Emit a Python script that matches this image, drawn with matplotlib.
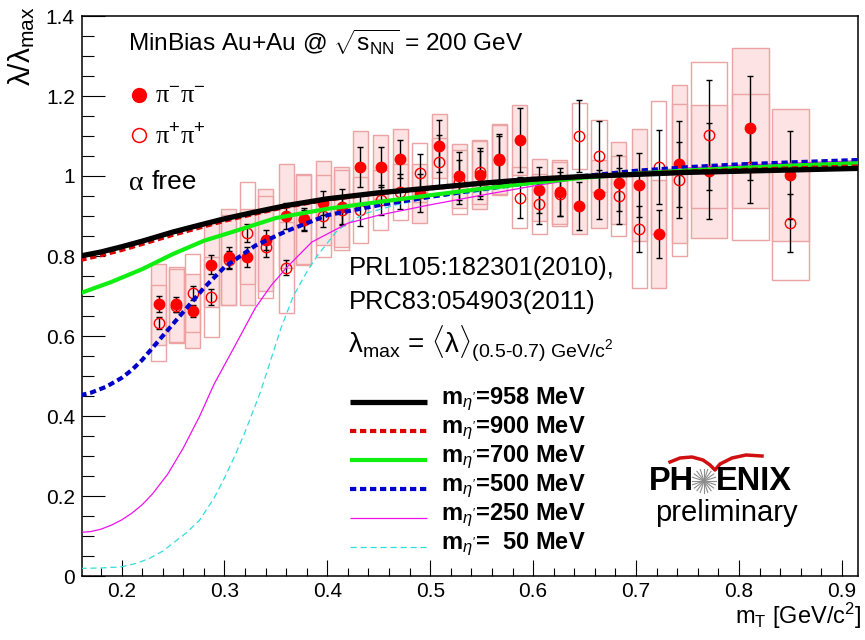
import numpy as np
import matplotlib
matplotlib.use("Agg")
import matplotlib.pyplot as plt
from matplotlib.patches import Rectangle
from matplotlib.lines import Line2D
from matplotlib.ticker import MultipleLocator, FuncFormatter

plt.rcParams['font.family'] = ['Liberation Sans', 'DejaVu Sans']
plt.rcParams['mathtext.fontset'] = 'custom'
plt.rcParams['mathtext.rm'] = 'Liberation Sans'
plt.rcParams['mathtext.it'] = 'Liberation Sans:italic'
plt.rcParams['mathtext.bf'] = 'Liberation Sans:bold'

W, H = 865, 640

# mT bins [GeV/c^2] and half width of the systematic boxes
mt = [0.236, 0.253, 0.269, 0.287, 0.304, 0.322, 0.340, 0.360, 0.377, 0.396,
      0.414, 0.432, 0.452, 0.471, 0.490, 0.509, 0.528, 0.548, 0.567, 0.587,
      0.606, 0.626, 0.645, 0.664, 0.683, 0.703, 0.722, 0.742, 0.771, 0.811,
      0.850]
mt_half = [0.0073] * 28 + [0.0174, 0.0178, 0.0178]

# pi- pi- (filled circles, shaded boxes)
lam_mm = [0.679, 0.679, 0.663, 0.778, 0.797, 0.797, 0.840, 0.900, 0.892, 0.933,
          0.923, 1.023, 1.023, 1.042, 0.957, 1.075, 1.000, 1.003, 1.042, 1.090,
          0.965, 0.960, 0.925, 0.954, 0.983, 0.977, 0.855, 1.030, 1.012, 1.119,
          1.003]
stat_mm = [0.020, 0.019, 0.015, 0.024, 0.026, 0.025, 0.025, 0.033, 0.029, 0.030,
           0.045, 0.050, 0.050, 0.048, 0.047, 0.066, 0.060, 0.060, 0.063, 0.079,
           0.058, 0.060, 0.060, 0.062, 0.070, 0.080, 0.060, 0.108, 0.120, 0.130,
           0.110]
sys_mm = [0.102, 0.093, 0.092, 0.105, 0.120, 0.120, 0.127, 0.130, 0.113, 0.105,
          0.100, 0.090, 0.080, 0.075, 0.074, 0.080, 0.080, 0.085, 0.088, 0.088,
          0.077, 0.080, 0.069, 0.085, 0.102, 0.140, 0.135, 0.197, 0.166, 0.200,
          0.165]

# pi+ pi+ (open circles, open boxes)
lam_pp = [0.632, 0.675, 0.708, 0.697, 0.790, 0.858, 0.823, 0.771, 0.890, 0.900,
          0.915, 0.915, 0.940, 0.961, 1.008, 1.036, 0.985, 1.011, 1.040, 0.946,
          0.930, 0.955, 1.100, 1.050, 0.951, 0.867, 1.022, 0.990, 1.102, 1.023,
          0.883]
stat_pp = [0.015, 0.015, 0.018, 0.020, 0.022, 0.023, 0.026, 0.019, 0.025, 0.027,
           0.035, 0.040, 0.037, 0.044, 0.047, 0.067, 0.055, 0.060, 0.060, 0.052,
           0.050, 0.055, 0.090, 0.088, 0.070, 0.057, 0.093, 0.094, 0.138, 0.090,
           0.073]
sys_pp = [0.095, 0.093, 0.098, 0.100, 0.113, 0.128, 0.128, 0.114, 0.113, 0.103,
          0.100, 0.083, 0.075, 0.070, 0.074, 0.060, 0.080, 0.080, 0.088, 0.077,
          0.075, 0.080, 0.082, 0.090, 0.100, 0.147, 0.166, 0.190, 0.182, 0.183,
          0.143]

# model curves for different eta' masses
x958 = [0.16, 0.18, 0.20, 0.22, 0.25, 0.28, 0.30, 0.33, 0.36, 0.40, 0.45, 0.50,
        0.55, 0.60, 0.65, 0.70, 0.75, 0.80, 0.85, 0.916]
y958 = [0.800, 0.810, 0.823, 0.837, 0.860, 0.880, 0.893, 0.910, 0.926, 0.943,
        0.958, 0.970, 0.982, 0.992, 0.999, 1.004, 1.009, 1.012, 1.015, 1.019]
x900 = x958
y900 = [0.790, 0.802, 0.815, 0.830, 0.853, 0.874, 0.888, 0.906, 0.923, 0.941,
        0.957, 0.969, 0.981, 0.991, 0.999, 1.005, 1.011, 1.015, 1.019, 1.024]
x700 = [0.16, 0.19, 0.22, 0.25, 0.28, 0.31, 0.35, 0.40, 0.45, 0.50, 0.55, 0.60,
        0.65, 0.70, 0.75, 0.80, 0.85, 0.916]
y700 = [0.707, 0.735, 0.767, 0.805, 0.838, 0.862, 0.895, 0.918, 0.935, 0.952,
        0.968, 0.983, 0.996, 1.006, 1.014, 1.020, 1.026, 1.032]
x500 = [0.16, 0.17, 0.185, 0.20, 0.21, 0.22, 0.235, 0.25, 0.265, 0.28, 0.30,
        0.33, 0.36, 0.40, 0.45, 0.50, 0.55, 0.60, 0.65, 0.70, 0.75, 0.80, 0.85,
        0.916]
y500 = [0.452, 0.458, 0.473, 0.495, 0.515, 0.540, 0.585, 0.630, 0.675, 0.720,
        0.772, 0.826, 0.862, 0.902, 0.927, 0.948, 0.967, 0.985, 1.000, 1.013,
        1.022, 1.029, 1.034, 1.040]
x250 = [0.16, 0.17, 0.18, 0.19, 0.20, 0.21, 0.22, 0.23, 0.245, 0.26, 0.276,
        0.29, 0.308, 0.33, 0.345, 0.36, 0.385, 0.42, 0.45, 0.50, 0.55, 0.60,
        0.65, 0.70, 0.75, 0.80, 0.85, 0.916]
y250 = [0.109, 0.111, 0.117, 0.127, 0.140, 0.157, 0.178, 0.205, 0.255, 0.320,
        0.400, 0.480, 0.565, 0.670, 0.725, 0.770, 0.835, 0.882, 0.902, 0.928,
        0.952, 0.975, 0.995, 1.010, 1.020, 1.027, 1.032, 1.038]
x50 = [0.16, 0.18, 0.20, 0.215, 0.227, 0.24, 0.25, 0.263, 0.276, 0.29, 0.30,
       0.31, 0.32, 0.335, 0.345, 0.355, 0.367, 0.38, 0.39, 0.41, 0.435, 0.47,
       0.50, 0.55, 0.60, 0.65, 0.70, 0.75, 0.80, 0.85, 0.916]
y50 = [0.019, 0.020, 0.023, 0.032, 0.044, 0.062, 0.082, 0.108, 0.140, 0.195,
       0.245, 0.300, 0.360, 0.460, 0.540, 0.620, 0.700, 0.760, 0.800, 0.865,
       0.905, 0.930, 0.945, 0.962, 0.980, 0.995, 1.008, 1.018, 1.025, 1.030,
       1.036]

labels = ["m$_{\\eta'}$=958 MeV", "m$_{\\eta'}$=900 MeV", "m$_{\\eta'}$=700 MeV",
          "m$_{\\eta'}$=500 MeV", "m$_{\\eta'}$=250 MeV", "m$_{\\eta'}$=  50 MeV"]

dash = (0, (1.5, 0.9))
curves = [
    (x958, y958, dict(color='black', lw=3.8, ls='-')),
    (x900, y900, dict(color='#dd0000', lw=3.0, ls=dash)),
    (x700, y700, dict(color='#11ee11', lw=3.0, ls='-')),
    (x500, y500, dict(color='#0000cc', lw=3.0, ls=dash)),
    (x250, y250, dict(color='#ee11ee', lw=0.9, ls='-')),
    (x50, y50, dict(color='#33dddd', lw=0.9, ls=(0, (5, 3)))),
]


def fx(px):
    return px / W


def fy(py):
    return 1 - py / H


fig = plt.figure(figsize=(W / 100, H / 100), dpi=100)
ax = fig.add_axes([fx(81.7), fy(576), (858 - 81.7) / W, 560 / H])

# systematic boxes
for x, hw, y, s in zip(mt, mt_half, lam_mm, sys_mm):
    ax.add_patch(Rectangle((x - hw, y - s), 2 * hw, 2 * s, facecolor='#fde3e3',
                           edgecolor='#eba3a3', lw=1, zorder=1))
for x, hw, y, s in zip(mt, mt_half, lam_pp, sys_pp):
    ax.add_patch(Rectangle((x - hw, y - s), 2 * hw, 2 * s, facecolor='none',
                           edgecolor='#eba3a3', lw=1, zorder=1.5))

# points with statistical errors
ax.errorbar(mt, lam_mm, yerr=stat_mm, fmt='o', color='red', ms=7.5,
            ecolor='black', elinewidth=1, capsize=2.5, capthick=1, zorder=3)
ax.errorbar(mt, lam_pp, yerr=stat_pp, fmt='o', mfc='none', mec='red', mew=1,
            ms=7.5, ecolor='black', elinewidth=1, capsize=2.5, capthick=1,
            zorder=3)

# model curves, heaviest on top
for cx, cy, st in reversed(curves):
    ax.plot(cx, cy, zorder=4, solid_capstyle='butt', dash_capstyle='butt', **st)

ax.set_xlim(0.1613, 0.9157)
ax.set_ylim(0, 1.4)
ax.xaxis.set_major_locator(MultipleLocator(0.1))
ax.xaxis.set_minor_locator(MultipleLocator(0.02))
ax.yaxis.set_major_locator(MultipleLocator(0.2))
ax.yaxis.set_minor_locator(MultipleLocator(0.05))
ax.xaxis.set_major_formatter(FuncFormatter(lambda v, p: '%g' % round(v, 2)))
ax.yaxis.set_major_formatter(FuncFormatter(lambda v, p: '%g' % round(v, 2)))
ax.tick_params(which='both', direction='in', top=False, right=False,
               labelsize=15, width=0.8)
ax.tick_params(axis='x', which='major', length=11.5, pad=4)
ax.tick_params(axis='x', which='minor', length=6)
ax.tick_params(axis='y', which='major', length=16.5, pad=5)
ax.tick_params(axis='y', which='minor', length=8.5)
for sp in ax.spines.values():
    sp.set_linewidth(1.1)

# axis titles
fig.text(fx(22), fy(6), "λ/λ$_{\\rm max}$", rotation=90, ha='center',
         va='top', fontsize=21.5)
fig.text(fx(861), fy(616), "m$_{\\rm T}$ [GeV/c$^{2}$]", ha='right',
         va='center', fontsize=17)

# header texts
fig.text(fx(128), fy(42), "MinBias Au+Au @ $\\sqrt{\\mathrm{s}_{\\mathrm{NN}}}$ = 200 GeV",
         va='center', fontsize=17.6)
ax.plot([fx(139)], [fy(95)], 'o', color='red', ms=10, transform=fig.transFigure,
        clip_on=False)
ax.plot([fx(139)], [fy(135)], 'o', mfc='none', mec='red', mew=1.1, ms=10,
        transform=fig.transFigure, clip_on=False)
fig.text(fx(155), fy(97), "π$^{-}$π$^{-}$", va='center', fontsize=19,
         family='Liberation Serif')
fig.text(fx(155), fy(137), "π$^{+}$π$^{+}$", va='center', fontsize=19,
         family='Liberation Serif')
fig.text(fx(129), fy(183), "α", va='center', fontsize=20, family='Liberation Serif')
fig.text(fx(152), fy(182), "free", va='center', fontsize=19)
fig.text(fx(349), fy(268), "PRL105:182301(2010),", va='center', fontsize=18.4)
fig.text(fx(349), fy(302), "PRC83:054903(2011)", va='center', fontsize=18.4)
fig.text(fx(348), fy(354),
         "λ$_{\\rm max}$ = $\\langle$λ$\\rangle_{\\rm (0.5\\text{-}0.7)\\ GeV/c^{2}}$",
         va='baseline', fontsize=20)

# legend for the curves
row0, row_step = 401.7, 29.0
for i, (cx, cy, st) in enumerate(curves):
    py = row0 + i * row_step
    fig.add_artist(Line2D([fx(350), fx(427)], [fy(py), fy(py)],
                          solid_capstyle='butt', dash_capstyle='butt', **st))
    fig.text(fx(441), fy(py + 2.5), labels[i], va='baseline', fontsize=17,
             fontweight='bold')

# PHENIX preliminary logo
fig.text(fx(649), fy(482), "PH", va='center', fontsize=23.5, fontweight='bold')
fig.text(fx(716), fy(482), "ENIX", va='center', fontsize=23.5, fontweight='bold')
for ang in np.arange(0, np.pi, np.pi / 10):
    dx, dy = 12 * np.cos(ang), 12 * np.sin(ang)
    fig.add_artist(Line2D([fx(704 - dx), fx(704 + dx)], [fy(481 - dy), fy(481 + dy)],
                          color='#8c8c8c', lw=0.8))
swoosh_px = [670, 680, 692, 703, 710, 715, 720, 732, 746, 762]
swoosh_py = [462, 458, 457, 460, 465, 470, 464, 458, 455, 456]
fig.add_artist(Line2D([fx(p) for p in swoosh_px], [fy(p) for p in swoosh_py],
                      color='#d01010', lw=2.5))
fig.text(fx(726), fy(513), "preliminary", ha='center', va='center', fontsize=21)

fig.savefig("out.png", dpi=100)
